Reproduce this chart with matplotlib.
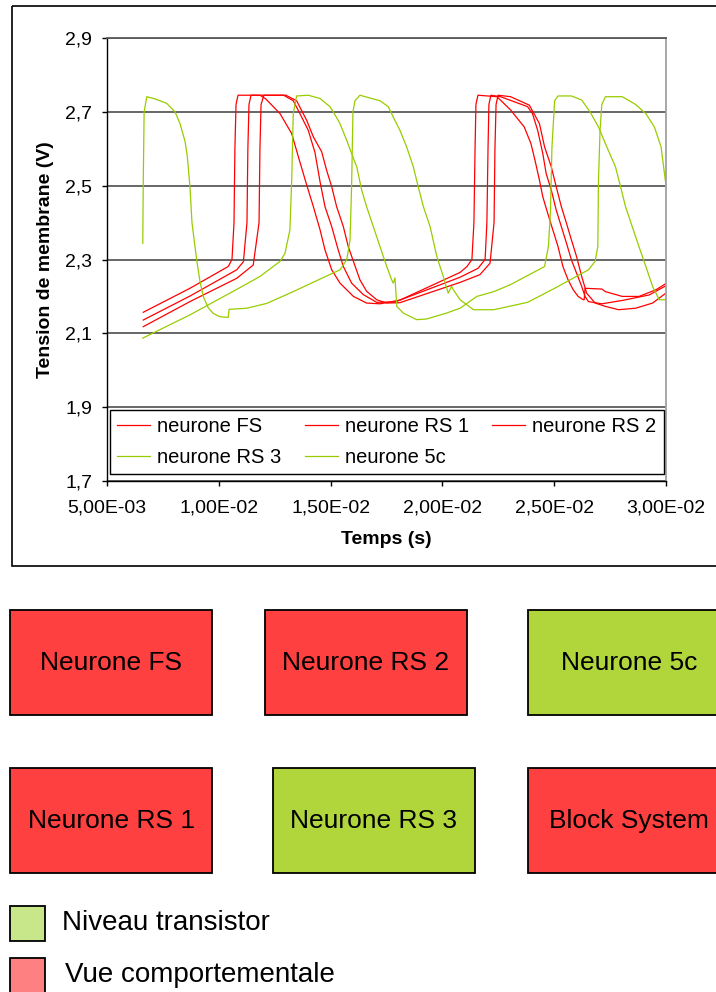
import numpy as np
import matplotlib.pyplot as plt
from matplotlib.patches import Rectangle

plt.rcParams['font.family'] = ['Liberation Sans', 'DejaVu Sans']

# --- traces (time in ms, membrane voltage in V) ---
t_fs_ms = [6.62, 8.71, 10.42, 10.59, 10.68, 10.72, 10.77, 10.86, 11.84, 12.10,
           12.74, 13.26, 13.56, 13.93, 14.23, 14.53, 14.75, 15.05, 15.42, 16.02,
           16.61, 17.21, 18.10, 20.79, 21.10, 21.32, 21.41, 21.46, 21.50, 21.59,
           22.44, 23.05, 23.66, 23.96, 24.14, 24.34, 24.49, 24.71, 24.94, 25.17,
           25.39, 25.62, 25.85, 26.07, 26.30, 26.34, 26.38, 27.13, 27.29, 28.04,
           28.79, 29.55, 30.00]
v_fs = [2.157, 2.222, 2.281, 2.300, 2.400, 2.600, 2.720, 2.745, 2.745, 2.735,
        2.695, 2.641, 2.578, 2.502, 2.443, 2.380, 2.326, 2.272, 2.236, 2.200,
        2.182, 2.180, 2.190, 2.265, 2.281, 2.300, 2.400, 2.600, 2.720, 2.745,
        2.741, 2.705, 2.659, 2.614, 2.569, 2.515, 2.470, 2.425, 2.380, 2.335,
        2.281, 2.245, 2.218, 2.200, 2.191, 2.191, 2.222, 2.220, 2.213, 2.200,
        2.200, 2.218, 2.235]

t_rs1_ms = [6.62, 8.71, 10.80, 11.10, 11.26, 11.30, 11.35, 11.44, 12.90, 13.33,
            13.63, 14.00, 14.30, 14.53, 14.75, 15.05, 15.34, 15.57, 15.94, 16.46,
            17.06, 17.88, 20.79, 21.59, 21.91, 21.99, 22.04, 22.08, 22.17, 22.60,
            23.81, 24.03, 24.26, 24.49, 24.64, 24.87, 25.09, 25.32, 25.55, 25.77,
            26.00, 26.23, 26.38, 26.53, 27.13, 28.04, 29.25, 30.00]
v_rs1 = [2.136, 2.201, 2.272, 2.294, 2.400, 2.600, 2.720, 2.745, 2.745, 2.730,
         2.695, 2.650, 2.590, 2.510, 2.443, 2.389, 2.326, 2.281, 2.236, 2.205,
         2.184, 2.185, 2.252, 2.276, 2.300, 2.400, 2.600, 2.720, 2.745, 2.741,
         2.714, 2.695, 2.650, 2.587, 2.533, 2.488, 2.434, 2.389, 2.344, 2.299,
         2.263, 2.227, 2.200, 2.186, 2.180, 2.189, 2.204, 2.229]

t_rs2_ms = [6.62, 8.71, 10.80, 11.54, 11.80, 11.84, 11.89, 12.02, 13.00, 13.48,
            13.93, 14.23, 14.60, 14.82, 15.05, 15.27, 15.57, 15.79, 16.02, 16.31,
            16.61, 17.06, 17.51, 18.10, 20.79, 21.68, 22.13, 22.31, 22.35, 22.40,
            22.49, 23.05, 23.89, 24.34, 24.57, 24.87, 25.09, 25.32, 25.55, 25.77,
            26.00, 26.23, 26.45, 26.83, 27.29, 27.88, 28.64, 29.40, 30.00]
v_rs2 = [2.118, 2.186, 2.249, 2.285, 2.400, 2.600, 2.720, 2.745, 2.745, 2.730,
         2.677, 2.632, 2.592, 2.542, 2.497, 2.443, 2.389, 2.335, 2.295, 2.245,
         2.214, 2.191, 2.182, 2.183, 2.238, 2.259, 2.290, 2.400, 2.600, 2.720,
         2.745, 2.741, 2.718, 2.668, 2.605, 2.551, 2.497, 2.443, 2.398, 2.353,
         2.308, 2.254, 2.209, 2.182, 2.173, 2.164, 2.168, 2.182, 2.209]

t_rs3_ms = [6.60, 8.71, 10.80, 11.84, 12.74, 12.96, 13.18, 13.26, 13.33, 13.48,
            14.00, 14.53, 14.97, 15.12, 15.42, 15.72, 15.94, 16.17, 16.39, 16.61,
            16.91, 17.21, 17.51, 17.73, 17.80, 17.88, 17.96, 18.25, 18.85, 19.30,
            20.19, 20.79, 21.54, 22.30, 23.05, 24.57, 24.74, 24.83, 24.90, 25.02,
            25.17, 25.77, 26.23, 26.60, 26.98, 27.29, 27.74, 27.97, 28.19, 28.49,
            28.79, 29.10, 29.40, 29.70, 30.00]
v_rs3 = [2.087, 2.150, 2.219, 2.254, 2.295, 2.317, 2.380, 2.515, 2.695, 2.743,
         2.745, 2.736, 2.714, 2.700, 2.668, 2.623, 2.587, 2.551, 2.488, 2.443,
         2.389, 2.335, 2.281, 2.245, 2.236, 2.250, 2.173, 2.155, 2.137, 2.139,
         2.155, 2.168, 2.200, 2.213, 2.232, 2.281, 2.335, 2.425, 2.605, 2.730,
         2.743, 2.743, 2.732, 2.700, 2.659, 2.614, 2.551, 2.497, 2.443, 2.389,
         2.335, 2.281, 2.227, 2.191, 2.191]

t_5c_ms = [6.60, 6.62, 6.66, 6.78, 7.15, 7.67, 8.04, 8.26, 8.49, 8.59,
           8.71, 8.80, 9.01, 9.16, 9.31, 9.52, 9.75, 10.05, 10.42, 10.46,
           11.25, 12.14, 13.33, 14.53, 15.42, 15.72, 15.87, 15.94, 16.00, 16.09,
           16.31, 17.21, 17.58, 17.80, 18.10, 18.40, 18.70, 18.92, 19.15, 19.45,
           19.75, 20.04, 20.26, 20.41, 20.49, 20.79, 21.39, 22.30, 23.81, 25.02,
           26.53, 26.83, 26.95, 26.98, 27.05, 27.13, 27.29, 28.04, 28.64, 29.10,
           29.48, 29.78, 30.00]
v_5c = [2.344, 2.500, 2.700, 2.741, 2.735, 2.723, 2.700, 2.669, 2.620, 2.580,
        2.497, 2.400, 2.299, 2.240, 2.199, 2.170, 2.154, 2.145, 2.143, 2.165,
        2.168, 2.181, 2.213, 2.247, 2.272, 2.299, 2.353, 2.500, 2.700, 2.730,
        2.745, 2.730, 2.714, 2.686, 2.650, 2.605, 2.551, 2.497, 2.443, 2.389,
        2.308, 2.254, 2.209, 2.227, 2.218, 2.191, 2.164, 2.164, 2.184, 2.222,
        2.272, 2.295, 2.335, 2.515, 2.650, 2.720, 2.741, 2.741, 2.720, 2.695,
        2.659, 2.605, 2.500]

x_ticks = [0.005, 0.010, 0.015, 0.020, 0.025, 0.030]
y_ticks = [1.7, 1.9, 2.1, 2.3, 2.5, 2.7, 2.9]

# blocks under the chart
box_labels = ['Neurone FS', 'Neurone RS 2', 'Neurone 5c',
              'Neurone RS 1', 'Neurone RS 3', 'Block System']
box_kind = ['comportementale', 'comportementale', 'transistor',
            'comportementale', 'transistor', 'comportementale']
key_labels = ['Niveau transistor', 'Vue comportementale']

RED = '#ff0000'
GREEN = '#99cc00'
box_colors = {'transistor': '#b0d63c', 'comportementale': '#ff4040'}
key_colors = ['#c8e68a', '#ff8080']

fig = plt.figure(figsize=(7.16, 9.92), dpi=100)

# pixel-space layer for the frame, blocks and key
bg = fig.add_axes([0, 0, 1, 1])
bg.set_xlim(0, 716)
bg.set_ylim(992, 0)
bg.axis('off')
bg.add_patch(Rectangle((12, 6), 730, 560, fill=False, ec='black', lw=1.2, clip_on=False))

box_x = [10, 265, 528, 10, 273, 528]
box_y = [610, 610, 610, 768, 768, 768]
for lab, kind, bx, by in zip(box_labels, box_kind, box_x, box_y):
    bg.add_patch(Rectangle((bx, by), 202, 105, fc=box_colors[kind], ec='black',
                           lw=1.3, clip_on=False))
    bg.text(bx + 101, by + 53, lab, ha='center', va='center', fontsize=19)

for i, (lab, col) in enumerate(zip(key_labels, key_colors)):
    ky = 906 + 52 * i
    bg.add_patch(Rectangle((10, ky), 35, 35, fc=col, ec='black', lw=1.3, clip_on=False))
    bg.text(62 + 3 * i, ky + 17, lab, ha='left', va='center', fontsize=20)

# --- the chart itself ---
ax = fig.add_axes([107 / 716, 1 - 481 / 992, 559 / 716, 443 / 992])
ax.set_zorder(2)

l_fs, = ax.plot(np.array(t_fs_ms) * 1e-3, v_fs, color=RED, lw=0.9, label='neurone FS')
l_rs1, = ax.plot(np.array(t_rs1_ms) * 1e-3, v_rs1, color=RED, lw=0.9, label='neurone RS 1')
l_rs2, = ax.plot(np.array(t_rs2_ms) * 1e-3, v_rs2, color=RED, lw=0.9, label='neurone RS 2')
l_rs3, = ax.plot(np.array(t_rs3_ms) * 1e-3, v_rs3, color=GREEN, lw=0.9, label='neurone RS 3')
l_5c, = ax.plot(np.array(t_5c_ms) * 1e-3, v_5c, color=GREEN, lw=0.9, label='neurone 5c')

ax.set_xlim(x_ticks[0], x_ticks[-1])
ax.set_ylim(y_ticks[0], y_ticks[-1])
ax.set_xticks(x_ticks)
ax.set_xticklabels([f"{v:.2E}".replace('.', ',') for v in x_ticks])
ax.set_yticks(y_ticks)
ax.set_yticklabels([f"{v:.1f}".replace('.', ',') for v in y_ticks])
ax.tick_params(direction='out', length=3.6, width=1, colors='black', labelsize=14)
ax.tick_params(axis='x', pad=10)
ax.tick_params(axis='y', pad=7)
ax.grid(axis='y', color='#5a5a5a', lw=1.3)

for side in ['left', 'bottom']:
    ax.spines[side].set_color('black')
    ax.spines[side].set_linewidth(1.0)
ax.spines['top'].set_color('#5a5a5a')
ax.spines['top'].set_linewidth(1.3)
ax.spines['right'].set_color('#a0a0a0')
ax.spines['right'].set_linewidth(1.3)

ax.set_xlabel('Temps (s)', fontsize=14, fontweight='bold', labelpad=10)
ax.set_ylabel('Tension de membrane (V)', fontsize=14, fontweight='bold', labelpad=8)

# row-wise order: FS, RS1, RS2 / RS3, 5c
handles = [l_fs, l_rs3, l_rs1, l_5c, l_rs2]
leg = ax.legend(handles, [h.get_label() for h in handles], ncol=3, loc='lower left',
                bbox_to_anchor=(0.005, 0.016, 0.991, 0.137), mode='expand',
                borderaxespad=0, fontsize=14.5, fancybox=False, edgecolor='black',
                framealpha=1, handlelength=1.65, handletextpad=0.35,
                labelspacing=0.57, borderpad=0.36)
leg.get_frame().set_linewidth(1.0)

fig.savefig('out.png', dpi=100)
